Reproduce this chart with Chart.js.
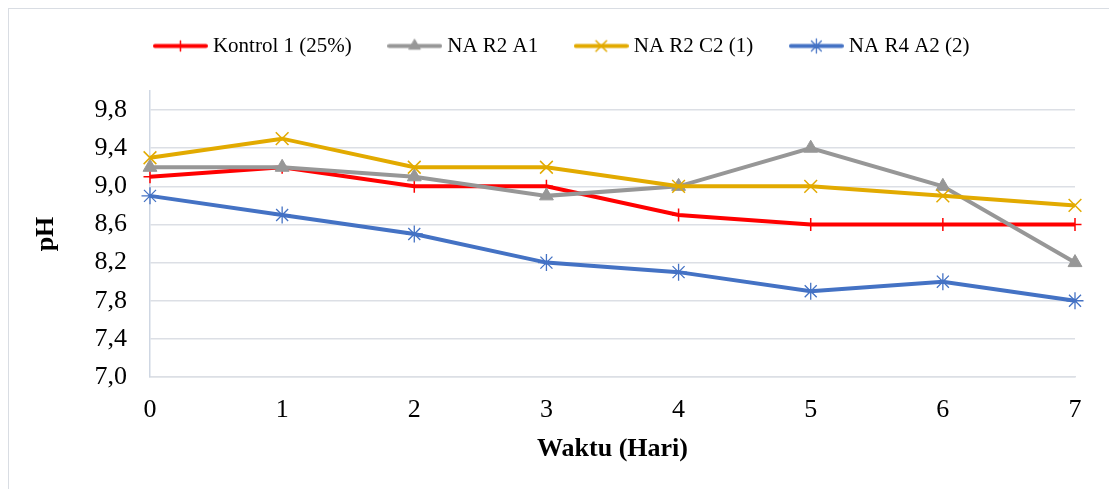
<!DOCTYPE html>
<html>
<head>
<meta charset="utf-8">
<title>pH</title>
<script src="https://cdn.jsdelivr.net/npm/chart.js@4/dist/chart.umd.min.js"></script>
<style>
  html, body { margin: 0; padding: 0; background: #fff; }
  #wrap { position: relative; width: 1109px; height: 489px; overflow: hidden; }
  #frame { position: absolute; left: 8px; top: 8px; width: 1200px; height: 600px; border: 1.5px solid #d9dde3; }
  #phChart { position: absolute; left: 0; top: 0; }
</style>
</head>
<body>
<div id="wrap">
  <div id="frame"></div>
  <canvas id="phChart" width="1109" height="489"></canvas>
</div>
<script>
// data
const days = ['0', '1', '2', '3', '4', '5', '6', '7'];
const kontrol = [9.1, 9.2, 9.0, 9.0, 8.7, 8.6, 8.6, 8.6];
const naR2A1 = [9.2, 9.2, 9.1, 8.9, 9.0, 9.4, 9.0, 8.2];
const naR2C2 = [9.3, 9.5, 9.2, 9.2, 9.0, 9.0, 8.9, 8.8];
const naR4A2 = [8.9, 8.7, 8.5, 8.2, 8.1, 7.9, 8.0, 7.8];
const yTicks = [7.0, 7.4, 7.8, 8.2, 8.6, 9.0, 9.4, 9.8];

// colors
const RED = '#ff0000';
const GRAY = '#979797';
const GOLD = '#e2aa00';
const BLUE = '#4472c4';
const GRID = '#dcdfe5';
const FONT = "'Liberation Serif', 'Times New Roman', serif";

// small canvas with line + marker, used as legend symbol
function legendIcon(ds) {
  const c = document.createElement('canvas');
  c.width = 55;
  c.height = 21;
  const ctx = c.getContext('2d');
  ctx.strokeStyle = ds.borderColor;
  ctx.lineWidth = 4;
  ctx.lineCap = 'round';
  ctx.beginPath();
  ctx.moveTo(2, 10.5);
  ctx.lineTo(53, 10.5);
  ctx.stroke();
  ctx.fillStyle = ds.borderColor;
  ctx.lineWidth = ds.pointBorderWidth;
  Chart.helpers.drawPoint(ctx, {
    pointStyle: ds.pointStyle,
    radius: ds.pointRadius - 1.5,
    rotation: 0,
    borderWidth: ds.pointBorderWidth
  }, 27.5, 10.5);
  return c;
}

// move the legend to where it sits in the picture
const legendShift = {
  id: 'legendShift',
  afterLayout(chart) {
    const lg = chart.legend;
    lg.top -= 24.5; lg.bottom -= 24.5;
    lg.left += 26.5; lg.right += 26.5;
  }
};

function series(label, data, color, style, radius, bw, order) {
  return {
    label: label,
    data: data,
    borderColor: color,
    backgroundColor: color,
    borderWidth: 4,
    pointStyle: style,
    pointRadius: radius,
    pointHoverRadius: radius,
    pointBorderWidth: bw,
    pointBorderColor: color,
    pointBackgroundColor: color,
    tension: 0,
    clip: false,
    order: order
  };
}

new Chart(document.getElementById('phChart'), {
  type: 'line',
  data: {
    labels: days,
    datasets: [
      series('Kontrol 1 (25%)', kontrol, RED, 'cross', 6.5, 1.5, 4),
      series('NA R2 A1', naR2A1, GRAY, 'triangle', 8, 1, 3),
      series('NA R2 C2 (1)', naR2C2, GOLD, 'crossRot', 9, 1.5, 2),
      series('NA R4 A2 (2)', naR4A2, BLUE, 'star', 8.5, 1.3, 1)
    ]
  },
  options: {
    responsive: false,
    animation: false,
    layout: { padding: { left: 0, right: 34, top: 19, bottom: 0 } },
    plugins: {
      tooltip: { enabled: false },
      legend: {
        position: 'top',
        labels: {
          usePointStyle: true,
          pointStyleWidth: 44,
          padding: 41,
          color: '#000',
          font: { family: FONT, size: 21 },
          generateLabels: chart => chart.data.datasets.map((ds, i) => ({
            text: ds.label,
            pointStyle: legendIcon(ds),
            fontColor: '#000',
            hidden: false,
            lineWidth: 0,
            strokeStyle: 'transparent',
            fillStyle: 'transparent',
            datasetIndex: i
          }))
        }
      }
    },
    scales: {
      x: {
        grid: { display: false },
        border: { color: GRID, width: 1.5 },
        ticks: { color: '#000', font: { family: FONT, size: 26 }, padding: 10, maxRotation: 0 },
        title: {
          display: true,
          text: 'Waktu (Hari)',
          color: '#000',
          font: { family: FONT, size: 26, weight: 'bold' },
          padding: { top: 0, bottom: 24 }
        },
        afterFit: s => { s.height = 112; }
      },
      y: {
        min: 7,
        max: 10,
        grid: { color: GRID, lineWidth: 1.5, drawTicks: false },
        border: { color: '#cfd7e3', width: 1.5 },
        ticks: {
          color: '#000',
          font: { family: FONT, size: 26 },
          padding: 23,
          callback: v => v.toFixed(1).replace('.', ',')
        },
        afterBuildTicks: s => { s.ticks = yTicks.map(v => ({ value: v })); },
        title: {
          display: true,
          text: 'pH',
          color: '#000',
          font: { family: FONT, size: 26, weight: 'bold' },
          padding: { top: 31, bottom: 0 }
        },
        afterFit: s => { s.width = 150; }
      }
    }
  },
  plugins: [legendShift]
});
</script>
</body>
</html>
